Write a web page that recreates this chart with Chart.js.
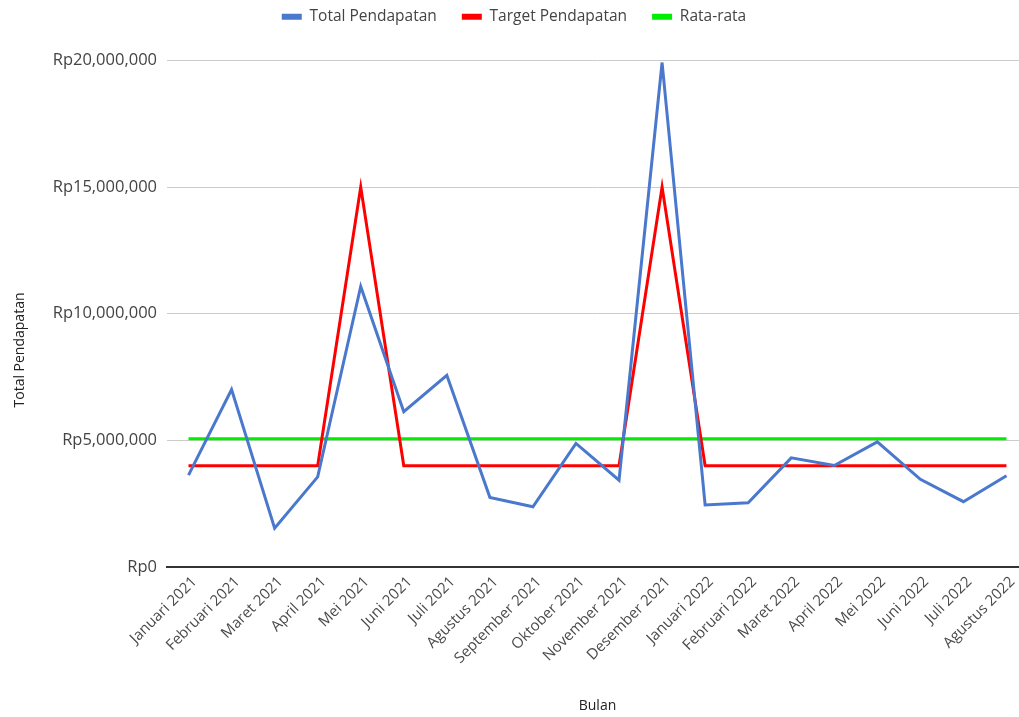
<!DOCTYPE html>
<html>
<head>
<meta charset="utf-8">
<script src="https://cdn.jsdelivr.net/npm/chart.js@4"></script>
<style>
  html, body { margin: 0; padding: 0; overflow: hidden; background: #fff; }
  #wrap { width: 1028px; height: 717px; position: relative; }
</style>
</head>
<body>
<div id="wrap"><canvas id="c"></canvas></div>
<script>
// Monthly revenue data
const bulan = [
  'Januari 2021', 'Februari 2021', 'Maret 2021', 'April 2021', 'Mei 2021', 'Juni 2021',
  'Juli 2021', 'Agustus 2021', 'September 2021', 'Oktober 2021', 'November 2021', 'Desember 2021',
  'Januari 2022', 'Februari 2022', 'Maret 2022', 'April 2022', 'Mei 2022', 'Juni 2022',
  'Juli 2022', 'Agustus 2022'
];
const totalPendapatan = [
  3630000, 7010000, 1530000, 3560000, 11080000, 6130000,
  7570000, 2750000, 2380000, 4880000, 3430000, 19920000,
  2450000, 2540000, 4310000, 4010000, 4940000, 3460000,
  2580000, 3600000
];
const targetPendapatan = [
  4000000, 4000000, 4000000, 4000000, 15000000, 4000000,
  4000000, 4000000, 4000000, 4000000, 4000000, 15000000,
  4000000, 4000000, 4000000, 4000000, 4000000, 4000000,
  4000000, 4000000
];
const rataRata = [
  5060000, 5060000, 5060000, 5060000, 5060000, 5060000,
  5060000, 5060000, 5060000, 5060000, 5060000, 5060000,
  5060000, 5060000, 5060000, 5060000, 5060000, 5060000,
  5060000, 5060000
];
const yMin = 0;
const yMax = 20000000;
const yStep = 5000000;

const FONT = '"Open Sans", "Noto Sans", sans-serif';

// Rotated title for the value axis
const yTitlePlugin = {
  id: 'yTitle',
  afterDraw(chart) {
    const ctx = chart.ctx;
    ctx.save();
    ctx.translate(20, 350);
    ctx.rotate(-Math.PI / 2);
    ctx.font = '14px ' + FONT;
    ctx.fillStyle = '#222';
    ctx.textAlign = 'center';
    ctx.textBaseline = 'middle';
    ctx.fillText('Total Pendapatan', 0, 0);
    ctx.restore();
  }
};

const rupiah = v => 'Rp' + Number(v).toLocaleString('en-US');

new Chart(document.getElementById('c'), {
  type: 'line',
  data: {
    labels: bulan,
    datasets: [
      { label: 'Total Pendapatan', data: totalPendapatan, borderColor: '#4a78cc', backgroundColor: '#4a78cc' },
      { label: 'Target Pendapatan', data: targetPendapatan, borderColor: '#ff0000', backgroundColor: '#ff0000' },
      { label: 'Rata-rata', data: rataRata, borderColor: '#00ee00', backgroundColor: '#00ee00' }
    ]
  },
  options: {
    responsive: true,
    maintainAspectRatio: false,
    animation: false,
    layout: { padding: { top: -16, left: 0, right: 0, bottom: 0 } },
    elements: {
      line: { borderWidth: 3, tension: 0, borderJoinStyle: 'miter' },
      point: { radius: 0, hoverRadius: 0 }
    },
    plugins: {
      tooltip: { enabled: false },
      legend: {
        position: 'top',
        labels: {
          boxWidth: 20,
          boxHeight: 6,
          padding: 25,
          color: '#444',
          font: { family: FONT, size: 15.5 },
          generateLabels(chart) {
            const items = Chart.defaults.plugins.legend.labels.generateLabels(chart);
            items.forEach(it => { it.fillStyle = it.strokeStyle; it.lineWidth = 0; });
            return items;
          }
        }
      },
      subtitle: {
        display: true,
        text: ' ',
        weight: 500,
        font: { size: 10 },
        padding: { top: 0, bottom: 14 }
      }
    },
    scales: {
      x: {
        offset: true,
        grid: { display: false, drawTicks: false },
        border: { display: true, color: '#333', width: 2 },
        ticks: {
          autoSkip: false,
          minRotation: 45,
          maxRotation: 45,
          padding: 6,
          labelOffset: 6,
          color: '#4a4a4a',
          font: { family: FONT, size: 15 }
        },
        title: {
          display: true,
          text: 'Bulan',
          color: '#222',
          font: { family: FONT, size: 14 },
          padding: { top: 4, bottom: 3 }
        },
        afterFit(scale) { scale.height = 150; }
      },
      y: {
        min: yMin,
        max: yMax,
        grid: {
          drawTicks: false,
          color: ctx => (ctx.tick && ctx.tick.value === 0) ? '#333' : '#cccccc',
          lineWidth: ctx => (ctx.tick && ctx.tick.value === 0) ? 2 : 1
        },
        border: { display: false },
        ticks: {
          stepSize: yStep,
          padding: 10,
          color: '#444',
          font: { family: FONT, size: 16.5 },
          callback: v => rupiah(v)
        },
        afterFit(scale) { scale.width = 167; }
      }
    }
  },
  plugins: [yTitlePlugin]
});
</script>
</body>
</html>
